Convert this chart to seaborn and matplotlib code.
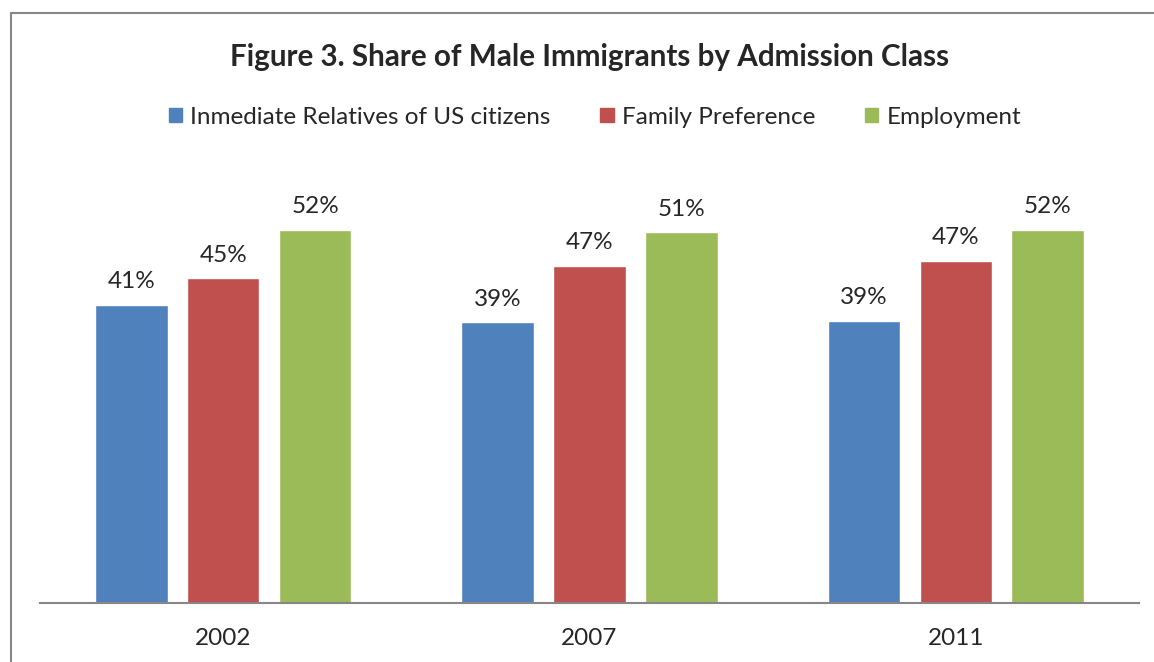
import matplotlib
matplotlib.use("Agg")
import matplotlib.pyplot as plt
from matplotlib.lines import Line2D
import pandas as pd
import seaborn as sns

years = ["2002", "2007", "2011"]
classes = ["Inmediate Relatives of US citizens", "Family Preference", "Employment"]
relatives = [41.3, 38.9, 39.1]
family = [45.0, 46.7, 47.4]
employment = [51.7, 51.4, 51.7]
colors = ["#4F81BD", "#C0504D", "#9BBB59"]

df = pd.DataFrame({
    "year": years * 3,
    "cls": [classes[0]] * 3 + [classes[1]] * 3 + [classes[2]] * 3,
    "share": relatives + family + employment,
})

sns.set_style("white")
plt.rcParams["font.family"] = ["Lato", "DejaVu Sans"]

W, H = 1154, 662
fig = plt.figure(figsize=(W / 100, H / 100), dpi=100)
ax = fig.add_axes([40 / W, 1 - 603 / H, (1139 - 40) / W, (603 - 170) / H])

sns.barplot(data=df, x="year", y="share", hue="cls", order=years, hue_order=classes,
            palette=colors, width=0.753, gap=0.21, saturation=1, ax=ax, legend=False)

for c in ax.containers:
    ax.bar_label(c, fmt="{:.0f}%", padding=9, fontsize=17.5)

ax.set_ylim(0, 60)
ax.set_xlim(-0.5, 2.5)
ax.set_xlabel("")
ax.set_ylabel("")
ax.set_yticks([])
ax.tick_params(axis="x", length=0, labelsize=17.5, pad=18)
for s in ["left", "right", "top"]:
    ax.spines[s].set_visible(False)
ax.spines["bottom"].set_color("#868686")
ax.spines["bottom"].set_linewidth(1.5)

fig.text(590 / W, 1 - 57 / H, "Figure 3. Share of Male Immigrants by Admission Class",
         ha="center", va="center", fontsize=21.3, fontweight="bold")

handles = [plt.Rectangle((0, 0), 1, 1, color=c) for c in colors]
fig.legend(handles, classes, loc="center", bbox_to_anchor=(595 / W, 1 - 117 / H), ncol=3,
           frameon=False, fontsize=17.5, handlelength=0.55, handleheight=0.55,
           handletextpad=0.33, columnspacing=2.05)

# chart frame
fig.add_artist(Line2D([11 / W, 11 / W], [0, 1 - 13 / H], transform=fig.transFigure,
                      color="#868686", lw=1.5))
fig.add_artist(Line2D([11 / W, 1], [1 - 13 / H, 1 - 13 / H], transform=fig.transFigure,
                      color="#868686", lw=1.5))

fig.savefig("out.png", dpi=100)
